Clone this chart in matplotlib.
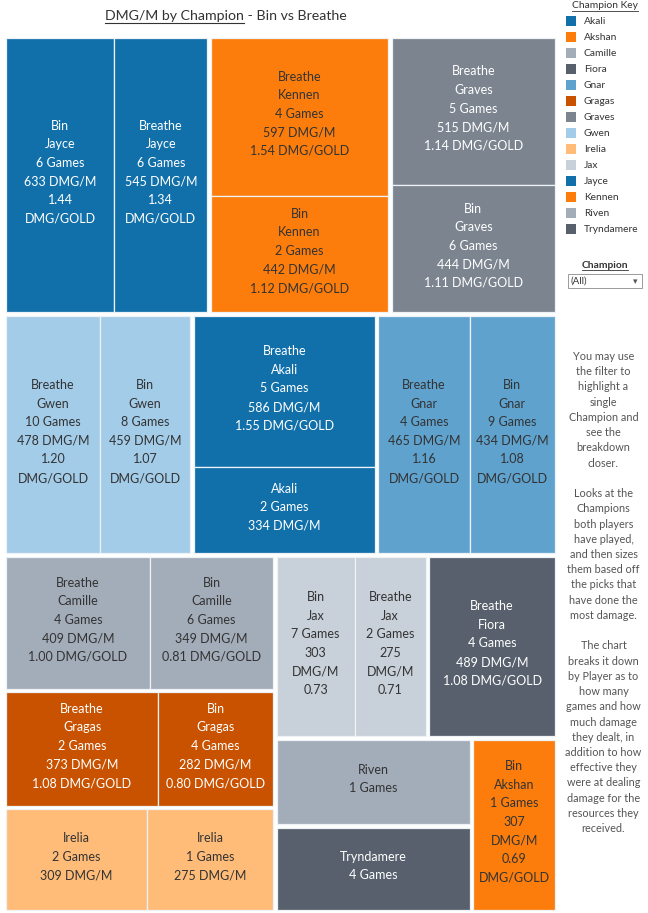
import matplotlib
matplotlib.use("Agg")
import matplotlib.pyplot as plt
from matplotlib.patches import Rectangle
from matplotlib.font_manager import FontProperties
from matplotlib.colors import to_rgb

plt.rcParams["font.family"] = ["Lato", "DejaVu Sans"]

# ---- data ----
champions = ["Akali", "Akshan", "Camille", "Fiora", "Gnar", "Gragas", "Graves",
             "Gwen", "Irelia", "Jax", "Jayce", "Kennen", "Riven", "Tryndamere"]
champ_colors = ["#1170aa", "#fc7d0b", "#a3acb9", "#57606c", "#5fa2ce", "#c85200",
                "#7b848f", "#a3cce9", "#ffbc79", "#c8d0d9", "#1170aa", "#fc7d0b",
                "#a3acb9", "#57606c"]

# one entry per treemap cell (champion, player)
cell_champ = ["Jayce", "Jayce", "Kennen", "Kennen", "Graves", "Graves",
              "Gwen", "Gwen", "Akali", "Akali", "Gnar", "Gnar",
              "Camille", "Camille", "Gragas", "Gragas", "Irelia", "Irelia",
              "Jax", "Jax", "Fiora", "Riven", "Tryndamere", "Akshan"]
cell_player = ["Bin", "Breathe", "Breathe", "Bin", "Breathe", "Bin",
               "Breathe", "Bin", "Breathe", "Bin", "Breathe", "Bin",
               "Breathe", "Bin", "Breathe", "Bin", "Bin", "Breathe",
               "Bin", "Breathe", "Breathe", "Bin", "Bin", "Bin"]
cell_games = [6, 6, 4, 2, 5, 6, 10, 8, 5, 2, 4, 9, 4, 6, 2, 4, 2, 1, 7, 2, 4, 1, 4, 1]
cell_dpm = [633, 545, 597, 442, 515, 444, 478, 459, 586, 334, 465, 434,
            409, 349, 373, 282, 309, 275, 303, 275, 489, 358, 350, 307]
cell_dpg = [1.44, 1.34, 1.54, 1.12, 1.14, 1.11, 1.20, 1.07, 1.55, None, 1.16, 1.08,
            1.00, 0.81, 1.08, 0.80, None, None, 0.73, 0.71, 1.08, None, None, 0.69]
show_player = [True] * 9 + [False] + [True] * 6 + [False, False] + [True] * 3 + [False, False, True]
show_dpm = [True] * 21 + [False, False, True]
label_max_lines = {"Jax": 6}

side_note = ("You may use\nthe filter to\nhighlight a\nsingle\nChampion and\nsee the\n"
             "breakdown\ncloser.\n\nLooks at the\nChampions\nboth players\nhave played,\n"
             "and then sizes\nthem based off\nthe picks that\nhave done the\nmost damage.\n\n"
             "The chart\nbreaks it down\nby Player as to\nhow many\ngames and how\n"
             "much damage\nthey dealt, in\naddition to how\neffective they\n"
             "were at dealing\ndamage for the\nresources they\nreceived.")

# ---- treemap structure (slice directions), sizes come from DMG/M ----
tree = ("v", [
    ("h", ["Jayce", "Kennen", "Graves"]),
    ("h", ["Gwen", "Akali", "Gnar"]),
    ("h", [("v", ["Camille", "Gragas", "Irelia"]),
           ("v", [("h", ["Jax", "Fiora"]),
                  ("h", [("v", ["Riven", "Tryndamere"]), "Akshan"])])]),
])
split_dir = {"Jayce": "h", "Kennen": "v", "Graves": "v", "Gwen": "h", "Akali": "v",
             "Gnar": "h", "Camille": "h", "Gragas": "h", "Irelia": "h", "Jax": "h",
             "Fiora": "h", "Riven": "h", "Tryndamere": "h", "Akshan": "h"}

color_of = dict(zip(champions, champ_colors))


def node_size(node):
    if isinstance(node, str):
        return sum(v for c, v in zip(cell_champ, cell_dpm) if c == node)
    return sum(node_size(n) for n in node[1])


def split(direction, items, sizes, x, y, w, h):
    total = sum(sizes)
    out = []
    pos = 0.0
    for it, s in zip(items, sizes):
        frac = s / total
        if direction == "h":
            out.append((it, x + pos * w, y, frac * w, h))
        else:
            out.append((it, x, y + pos * h, w, frac * h))
        pos += frac
    return out


def layout(node, x, y, w, h, acc):
    if isinstance(node, str):
        acc.append((node, x, y, w, h))
        return
    for child, cx, cy, cw, ch in split(node[0], node[1], [node_size(n) for n in node[1]], x, y, w, h):
        layout(child, cx, cy, cw, ch, acc)


fig = plt.figure(figsize=(6.48, 9.13), dpi=100)
fig.set_facecolor("white")
ax = fig.add_axes([0, 0, 1, 1])
ax.set_xlim(0, 648)
ax.set_ylim(913, 0)
ax.axis("off")
renderer = fig.canvas.get_renderer()

label_fp = FontProperties(family=["Lato", "DejaVu Sans"], size=9.0)
line_h = 18.6
gap = 1.8
wrap_margin = 10

groups = []
layout(tree, 4.2, 36.2, 552.6, 875.6, groups)


def text_w(s, fp):
    return renderer.get_text_width_height_descent(s, fp, ismath=False)[0]


def text_color(hexc):
    lin = [c / 12.92 if c <= 0.04045 else ((c + 0.055) / 1.055) ** 2.4 for c in to_rgb(hexc)]
    lum = 0.2126 * lin[0] + 0.7152 * lin[1] + 0.0722 * lin[2]
    return "#333333" if lum > 0.28 else "#ffffff"


for champ, gx, gy, gw, gh in groups:
    gx, gy, gw, gh = gx + gap, gy + gap, gw - 2 * gap, gh - 2 * gap
    idx = [i for i, c in enumerate(cell_champ) if c == champ]
    cells = split(split_dir[champ], idx, [cell_dpm[i] for i in idx], gx, gy, gw, gh)
    col = color_of[champ]
    tcol = text_color(col)
    for i, cx, cy, cw, ch in cells:
        ax.add_patch(Rectangle((cx, cy), cw, ch, facecolor=col,
                               edgecolor="#eef2f6", linewidth=0.9))
        raw = []
        if show_player[i]:
            raw.append(cell_player[i])
        raw.append(champ)
        raw.append(f"{cell_games[i]} Games")
        if show_dpm[i]:
            raw.append(f"{cell_dpm[i]} DMG/M")
        if cell_dpg[i] is not None:
            raw.append(f"{cell_dpg[i]:.2f} DMG/GOLD")
        lines = []
        for ln in raw:
            if text_w(ln, label_fp) > cw - wrap_margin and " " in ln:
                lines.extend(ln.split(" "))
            else:
                lines.append(ln)
        lines = lines[:label_max_lines.get(champ, len(lines))]
        n = len(lines)
        for k, ln in enumerate(lines):
            ty = cy + ch / 2 - 3 + (k - (n - 1) / 2) * line_h
            ax.text(cx + cw / 2, ty, ln, ha="center", va="center",
                    fontproperties=label_fp, color=tcol)

# ---- title with underlined first part ----
t1 = ax.text(0, 15.5, "DMG/M by Champion", fontsize=10.2, color="#333333", va="center", ha="left")
t2 = ax.text(0, 15.5, " - Bin vs Breathe", fontsize=10.2, color="#333333", va="center", ha="left")
w1 = t1.get_window_extent(renderer).width
w2 = t2.get_window_extent(renderer).width
x0 = 225.5 - (w1 + w2) / 2
t1.set_x(x0)
t2.set_x(x0 + w1)
ax.plot([x0, x0 + w1], [23, 23], color="#333333", lw=0.8)

# ---- legend ----
lk = ax.text(605, 6, "Champion Key", fontsize=7.4, color="#333333", ha="center", va="center")
lkw = lk.get_window_extent(renderer).width
ax.plot([605 - lkw / 2, 605 + lkw / 2], [11.5, 11.5], color="#333333", lw=0.6)
for k, (name, c) in enumerate(zip(champions, champ_colors)):
    yy = 21.5 + k * 16.0
    ax.add_patch(Rectangle((566, yy - 5), 9.5, 10, facecolor=c, edgecolor="none"))
    ax.text(584, yy, name, fontsize=7.4, color="#333333", va="center", ha="left")

# ---- filter box ----
ch_t = ax.text(605, 265.5, "Champion", fontsize=7.4, fontweight="bold", color="#333333",
               ha="center", va="center")
chw = ch_t.get_window_extent(renderer).width
ax.plot([605 - chw / 2, 605 + chw / 2], [270.5, 270.5], color="#333333", lw=0.6)
ax.add_patch(Rectangle((567.5, 274.5), 74, 14, facecolor="white", edgecolor="#9a9a9a", linewidth=0.7))
ax.text(570.5, 281.5, "(All)", fontsize=7.0, color="#333333", va="center", ha="left")
ax.text(635, 282, "\u25be", fontsize=6.5, color="#555555", va="center", ha="center")

# ---- side note ----
ax.text(603.5, 351, side_note, fontsize=7.8, color="#555555", ha="center", va="top",
        linespacing=1.47)

fig.savefig("out.png", dpi=100, facecolor="white")
